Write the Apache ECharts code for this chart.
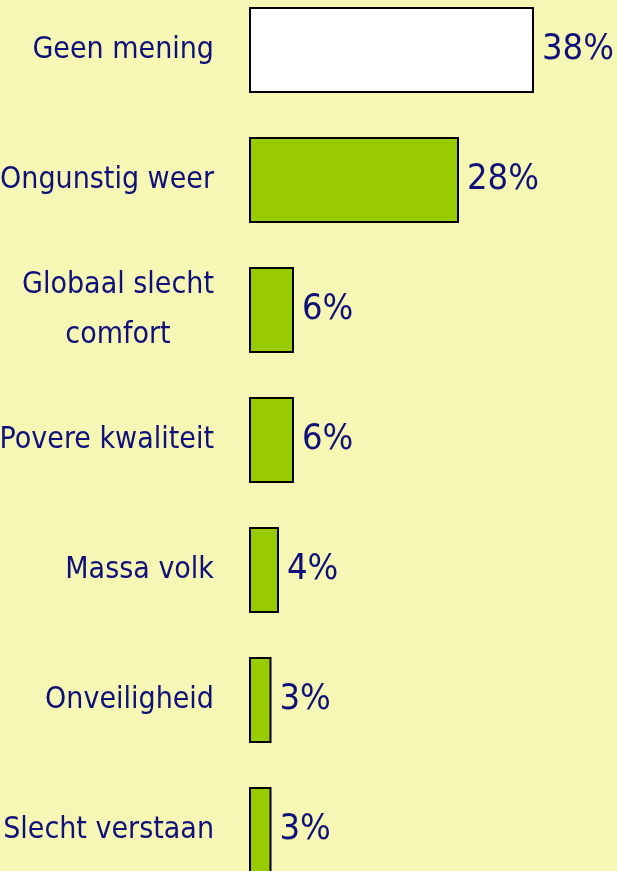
<!DOCTYPE html>
<html lang="nl">

<head>
    <meta charset="UTF-8">
    <title>Redenen</title>
    <style type="text/css">
        html, body { margin: 0; padding: 0; background: #f7f7b5; }
        #main { height: 871px; width: 617px; }
    </style>
    <script src="https://cdn.jsdelivr.net/npm/echarts@6/dist/echarts.min.js"></script>
</head>

<body>
    <div id="main"></div>
    <script type="text/javascript">
        var categories = ['Geen mening', 'Ongunstig weer', 'Globaal slecht\ncomfort', 'Povere kwaliteit', 'Massa volk', 'Onveiligheid', 'Slecht verstaan'];
        var values = [38, 28, 6, 6, 4, 3, 3];
        var barColors = ['#ffffff', '#99cc00', '#99cc00', '#99cc00', '#99cc00', '#99cc00', '#99cc00'];

        var FONT = '"Liberation Sans Narrow", "DejaVu Sans Condensed", sans-serif';
        var labelSize = 30;

        // width of longest line in a wrapped label, used to center the lines
        var ctx = document.createElement('canvas').getContext('2d');
        ctx.font = labelSize + 'px ' + FONT;
        function lineWidth(s) {
            return Math.ceil(Math.max.apply(null, s.split('\n').map(function (l) { return ctx.measureText(l).width; })));
        }

        var myChart = echarts.init(document.getElementById('main'));
        var option = {
            backgroundColor: '#f7f7b5',
            animation: false,
            grid: { left: 249, right: 68, top: -15, bottom: -24, containLabel: false, outerBoundsMode: 'none' },
            xAxis: { type: 'value', min: 0, max: 40, show: false },
            yAxis: {
                type: 'category',
                inverse: true,
                data: categories,
                axisLine: { show: false },
                axisTick: { show: false },
                axisLabel: {
                    margin: 35,
                    color: '#10107a',
                    fontFamily: FONT,
                    fontSize: labelSize,
                    lineHeight: 50,
                    formatter: function (v) {
                        if (v.indexOf('\n') < 0) return v;
                        return v.split('\n').map(function (l) { return '{c|' + l + '}'; }).join('\n');
                    },
                    rich: {
                        c: {
                            width: lineWidth(categories[2]),
                            align: 'center',
                            color: '#10107a',
                            fontFamily: FONT,
                            fontSize: labelSize,
                            lineHeight: 50
                        }
                    }
                }
            },
            series: [{
                type: 'bar',
                barWidth: 86,
                data: values.map(function (v, i) {
                    return { value: v, itemStyle: { color: barColors[i] } };
                }),
                itemStyle: { borderColor: '#000000', borderWidth: 2 },
                label: {
                    show: true,
                    position: 'right',
                    distance: 8,
                    formatter: '{c}%',
                    color: '#10107a',
                    fontFamily: FONT,
                    fontSize: 36
                }
            }]
        };
        myChart.setOption(option);
    </script>
</body>

</html>
